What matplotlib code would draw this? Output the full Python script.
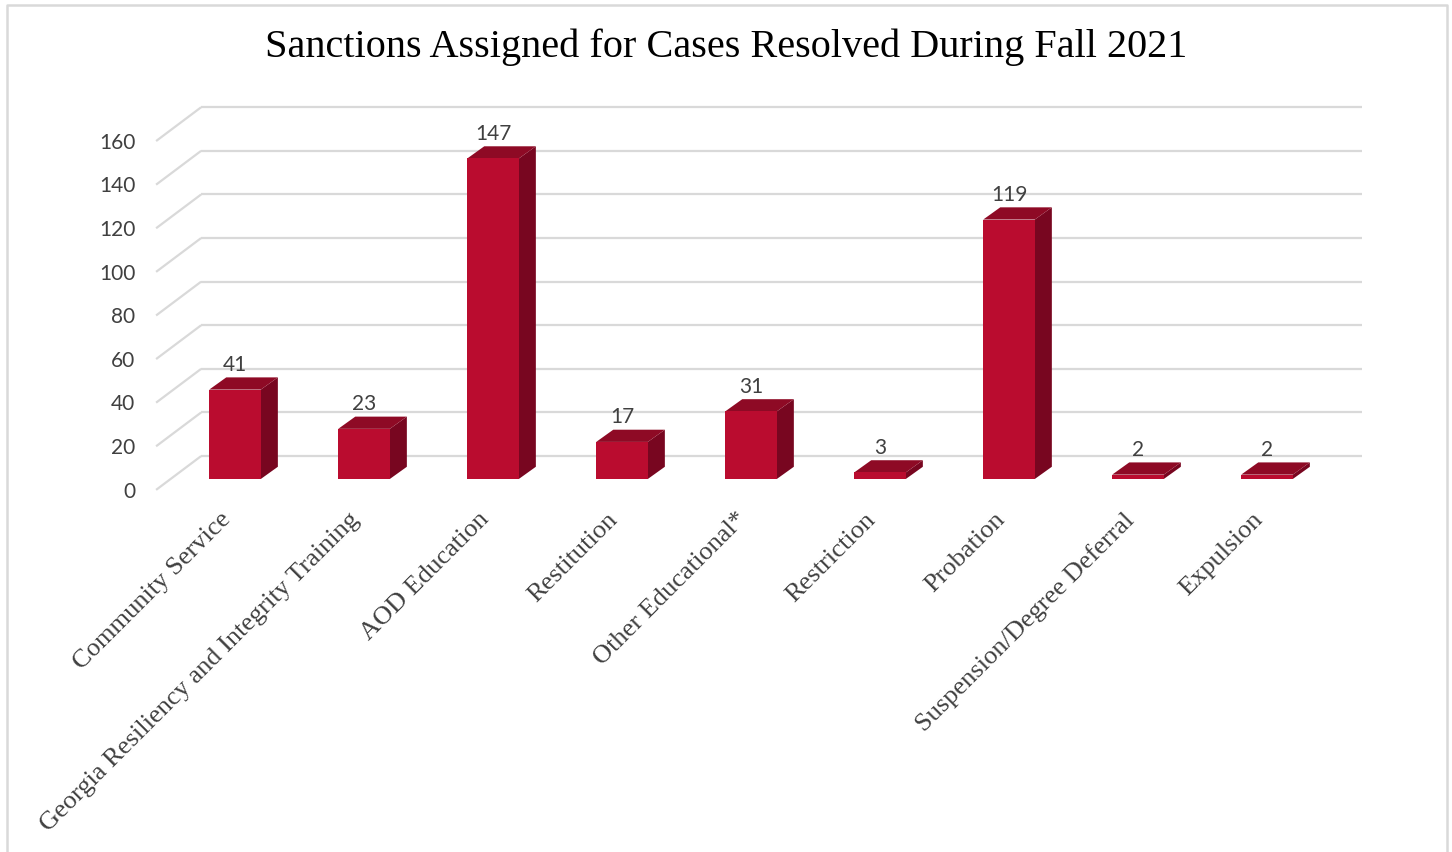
import matplotlib
matplotlib.use("Agg")
import matplotlib.pyplot as plt
from matplotlib.patches import Polygon

# data
categories = ["Community Service", "Georgia Resiliency and Integrity Training",
              "AOD Education", "Restitution", "Other Educational*", "Restriction",
              "Probation", "Suspension/Degree Deferral", "Expulsion"]
counts = [41, 23, 147, 17, 31, 3, 119, 2, 2]
yticks = [0, 20, 40, 60, 80, 100, 120, 140, 160]

# colours
front_c = "#BA0C2F"
top_c = "#8E0A25"
side_c = "#780620"
grid_c = "#D9D9D9"
text_c = "#404040"

# pseudo-3D geometry (in data units)
bar_w = 0.40
bar_dx, bar_dy = 0.132, 5.6      # depth of a bar
back_dx, back_dy = 0.237, 10.5   # back wall offset from bar front plane
front_dx, front_dy = -0.112, -5.0  # floor front edge offset
x_lo, x_hi = -0.5, 8.5

fig = plt.figure(figsize=(14.52, 8.52), dpi=100)
ax = fig.add_axes([0, 0, 1, 1])
ax.set_xlim(-1.822, 9.434)
ax.set_ylim(-171.1, 219.7)
ax.axis("off")

# gridlines: slanted left wall piece + horizontal back wall line
for v in yticks:
    ax.plot([x_lo + front_dx, x_lo + back_dx], [v + front_dy, v + back_dy],
            color=grid_c, lw=1.6, zorder=1, solid_capstyle="butt")
    ax.plot([x_lo + back_dx, x_hi + back_dx], [v + back_dy, v + back_dy],
            color=grid_c, lw=1.6, zorder=1, solid_capstyle="butt")
    ax.text(x_lo + front_dx - 0.16, v + front_dy - 0.8, str(v), ha="right", va="center",
            fontsize=15, color=text_c, family="Lato")

# bars
for i, v in enumerate(counts):
    x0, x1 = i - bar_w / 2, i + bar_w / 2
    side = [(x1, 0), (x1 + bar_dx, bar_dy), (x1 + bar_dx, v + bar_dy), (x1, v)]
    top = [(x0, v), (x1, v), (x1 + bar_dx, v + bar_dy), (x0 + bar_dx, v + bar_dy)]
    front = [(x0, 0), (x1, 0), (x1, v), (x0, v)]
    ax.add_patch(Polygon(side, closed=True, fc=side_c, ec="none", zorder=3))
    ax.add_patch(Polygon(top, closed=True, fc=top_c, ec="none", zorder=3))
    ax.add_patch(Polygon(front, closed=True, fc=front_c, ec="none", zorder=4))
    ax.text(i, v + bar_dy + 1.2, str(v), ha="center", va="bottom",
            fontsize=15, color=text_c, family="Lato", zorder=5)

# category labels
for i, name in enumerate(categories):
    ax.text(i - 0.12, -13.5, name, rotation=45, rotation_mode="anchor",
            ha="right", va="top", fontsize=19, color=text_c,
            family="Liberation Serif")

fig.text(0.5, 0.944, "Sanctions Assigned for Cases Resolved During Fall 2021",
         ha="center", va="center", fontsize=29, color="black",
         family="Liberation Serif")

# chart frame
fig.add_artist(plt.Line2D([0.0048, 0.0048, 0.9966, 0.9966], [0, 0.9941, 0.9941, 0],
                          transform=fig.transFigure, color=grid_c, lw=1.8))

fig.savefig("out.png", dpi=100)
